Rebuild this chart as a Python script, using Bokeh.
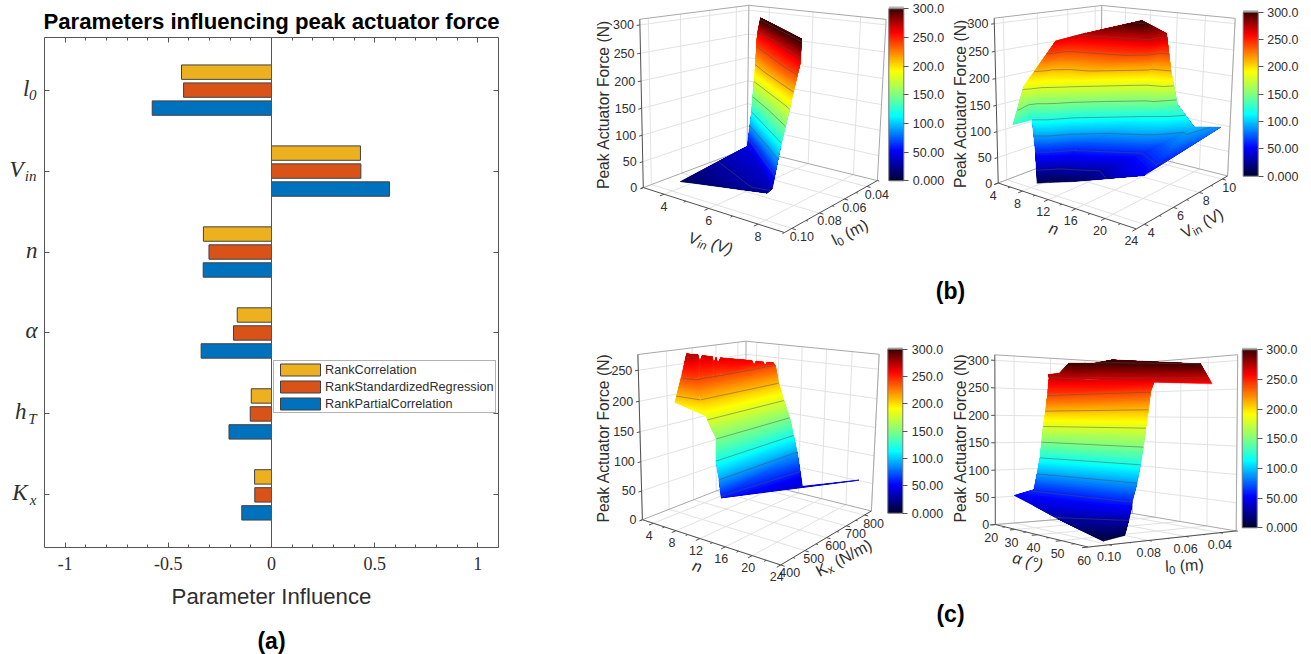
import numpy as np
from bokeh.plotting import figure
from bokeh.models import (Range1d, FixedTicker, LinearAxis, Span, Label, ColumnDataSource,
    Legend, LinearColorMapper, ColorBar)
from bokeh.core.properties import value
from bokeh.transform import transform
from bokeh.embed import file_html
from bokeh.resources import INLINE

# ---------- bar chart data ----------
params_main = ["l", "V", "n", "α", "h", "K"]
params_sub = ["0", "in", "", "", "T", "x"]
rank_corr = [-0.436, 0.431, -0.330, -0.166, -0.098, -0.082]
rank_reg = [-0.426, 0.433, -0.303, -0.184, -0.103, -0.081]
rank_partial = [-0.578, 0.572, -0.331, -0.341, -0.206, -0.144]
positions = [1, 2, 3, 4, 5, 6]

# ---------- surface data ----------
B1_X = [[[4.0,7.29],[4.48,7.57],[4.8,7.88],[4.87,8.18],[4.13,8.56],[5.2,8.93]]]
B1_Y = [[[0.0946,0.0868],[0.0543,0.0881],[0.0569,0.0885],[0.0559,0.0873],[0.0418,0.0887],[0.0576,0.0956]]]
B1_Z = [[[12,22],[45,35],[113,113],[192,192],[262,262],[305,305]]]

B2_X = [[[8.48,9.54,11.9,20.7,21.7],[7.34,8.69,10.4,17.5,20.5],[6.71,8.05,9.86,16,18.5],[6.59,7.46,9.43,15.9,18.6],[6.34,7.25,7.61,16.7,17.1],[6.34,7.25,9.25,15.8,16.4]],[[8.01,6.71],[6.34,6.59]]]
B2_Y = [[[4.19,4.6,5.13,5.67,11.2],[4.54,4.94,5.74,7.4,9.57],[4.6,5,5.96,8.12,9.29],[4.27,5.04,5.82,8.29,8.67],[4.27,5.87,6.87,8.04,9.09],[4.27,5.87,6.99,7.83,9.42]],[[3.04,4.6],[4.27,4.27]]]
B2_Z = [[[8,8,12,50,85],[60,60,60,62,98],[120,120,120,122,140],[175,190,192,192,205],[185,262,262,262,270],[185,262,275,305,275]],[[130,120],[185,175]]]

C1_X = [[[12.8,15.6],[13,13.4],[12.7,12.8],[11.7,11.9],[10.8,10.9],[9.75,9.91],[8.88,8.92]],[[8.88,8.93,8.94,8.81,8.88,8.86,8.91,8.89,8.97,8.99,8.97,8.84,8.79,8.78,8.82,8.92],[5.82,6.04,5.05,6.29,7.07,6.3,7.87,7.4,7.92,11,10.3,11.8,12.2,11.1,12.7,12.8]],[[12.8,21.2],[15.6,21.2]],[[10.2,7.59],[9.69,5.69],[8.88,6.57],[5.82,5.82]]]
C1_Y = [[[462,747],[449,784],[445,782],[470,787],[458,786],[457,788],[459,798]],[[459,466,473,485,521,528,536,543,552,686,694,708,742,750,760,798],[494,532,562,543,564,589,561,579,578,631,659,628,649,687,652,676]],[[462,866],[747,866]],[[465,468],[456,452],[459,457],[494,494]]]
C1_Z = [[[58,38],[90,90],[120,120],[150,150],[180,180],[210,210],[240,240]],[[240]*16,[275,272,258,270,268,255,268,257,266,262,252,262,260,250,260,258]],[[58,45],[38,45]],[[185,200],[210,200],[240,240],[275,275]]]

C2_X = [[[57.5,55.0],[43.5,55.7],[32.0,56.2],[22.5,56.0],[19.9,55.1],[19.4,54.8],[20.0,56.9],[22.1,47.8],[4.17,69.5],[15.2,58.0],[26.3,45.5]],
        [[26.3,26.8,27.1,35.0,37.9,45.5,58.2],[23.9,31.0,24.3,28.8,32.4,36.9,45.6]],
        [[18.4,32.0],[18.4,22.5]]]
C2_Y = [[[0.0995,0.0851],[0.104,0.0841],[0.103,0.0833],[0.0922,0.0828],[0.0875,0.0789],[0.0853,0.0767],[0.0851,0.0784],[0.0866,0.0632],[0.0646,0.0949],[0.0763,0.0763],[0.0883,0.0552]],
        [[0.0883,0.0832,0.0784,0.0744,0.0681,0.0552,0.0421],[0.0859,0.0882,0.0749,0.0662,0.0604,0.0491,0.0271]],
        [[0.0982,0.103],[0.0982,0.0922]]]
C2_Z = [[[3,5],[28,30],[42,52],[62,60],[90,90],[120,120],[150,150],[180,180],[210,210],[240,240],[268,262]],
        [[268,268,268,266,265,262,258],[277,277,300,300,306,304,300]],
        [[50,42],[50,62]]]

# ---------- colour scale ----------
STOPS = [(0,(0,0,50)),(52,(0,0,255)),(113,(0,255,255)),(150,(128,255,128)),(192,(255,255,0)),(259,(255,0,0)),(300,(60,0,0))]
zs = np.linspace(0,300,256)
palette = ["#%02x%02x%02x" % tuple(int(round(np.interp(z,[s[0] for s in STOPS],[s[1][i] for s in STOPS]))) for i in range(3)) for z in zs]
mapper = LinearColorMapper(palette=palette, low=0, high=300)
cb_labels = {0:"0.000",50:"50.00",100:"100.0",150:"150.0",200:"200.0",250:"250.0",300:"300.0"}

SANS = "Liberation Sans"; SERIF = "Liberation Serif"
INK = "#2e2e2e"

# ---------- panel (a) ----------
XT = [-1,-0.5,0,0.5,1]
XM = [round(-1+0.1*i,1) for i in range(21)]
xlab = {-1:"-1",-0.5:"-0.5",0:"0",0.5:"0.5",1:"1"}
YLOW,YHIGH = 6.65,0.35
FT,FB,FL = 37,547,44
left = figure(width=580, height=654, x_range=Range1d(-1.1,1.1), y_range=Range1d(YLOW,YHIGH),
    toolbar_location=None, output_backend="svg", min_border_left=FL, min_border_right=82,
    min_border_top=FT, min_border_bottom=654-FB, outline_line_color=None,
    title="Parameters influencing peak actuator force")
left.grid.visible = False
left.title.text_font = SANS; left.title.text_font_size = "22.2px"; left.title.text_font_style="bold"
left.title.align = "center"; left.title.text_color="black"; left.title.standoff = 8
ax = left.xaxis[0]
ax.ticker = FixedTicker(ticks=XT, minor_ticks=XM)
ax.major_label_overrides = xlab
ax.axis_label = "Parameter Influence"
ax.axis_label_text_font = SANS; ax.axis_label_text_font_size="22.2px"; ax.axis_label_text_font_style="normal"
ax.axis_label_text_color = INK; ax.axis_label_standoff = 11
ax.major_label_text_font = SERIF; ax.major_label_text_font_size = "18px"; ax.major_label_text_color = INK
ax.major_label_standoff = 9
ay = left.yaxis[0]
ay.ticker = FixedTicker(ticks=positions)
ay.major_label_overrides = {i:"" for i in positions}
def style_axis(a):
    a.axis_line_color="#555555"; a.major_tick_line_color="#555555"; a.minor_tick_line_color="#555555"
    a.major_tick_in=5; a.major_tick_out=0; a.minor_tick_in=3; a.minor_tick_out=0
for a in (ax,ay): style_axis(a)
top_ax = LinearAxis(ticker=FixedTicker(ticks=XT, minor_ticks=XM), major_label_overrides={t:"" for t in XT})
right_ax = LinearAxis(ticker=FixedTicker(ticks=positions), major_label_overrides={i:"" for i in positions})
style_axis(top_ax); style_axis(right_ax)
ay.minor_tick_line_color=None; right_ax.minor_tick_line_color=None
left.add_layout(top_ax,"above"); left.add_layout(right_ax,"right")
BAR_H = 0.178; OFF = 0.222
EDGE = "#404040"
r1 = left.hbar(y=[p-OFF for p in positions], left=0, right=rank_corr, height=BAR_H, fill_color="#EDB120", line_color=EDGE)
r2 = left.hbar(y=positions, left=0, right=rank_reg, height=BAR_H, fill_color="#D95319", line_color=EDGE)
r3 = left.hbar(y=[p+OFF for p in positions], left=0, right=rank_partial, height=BAR_H, fill_color="#0072BD", line_color=EDGE)
left.add_layout(Span(location=0, dimension="height", line_color="#555555", line_width=1))
leg = Legend(items=[("RankCorrelation",[r1]),("RankStandardizedRegression",[r2]),("RankPartialCorrelation",[r3])],
    location=(229,134), margin=0, padding=1, spacing=2, glyph_width=50, glyph_height=15, label_height=15,
    label_standoff=0, label_text_font=SANS, label_text_font_size="12.7px", label_text_color=INK,
    border_line_color="#666666", border_line_width=1, background_fill_alpha=1)
left.add_layout(leg,"center")
left.styles = {"position":"absolute","left":"0px","top":"0px"}

# ---------- overlay canvas: 3-D panels and labels outside the bar chart's frame ----------
right = figure(width=1311, height=654, x_range=Range1d(0,1311), y_range=Range1d(654,0),
    toolbar_location=None, output_backend="svg", min_border=0, outline_line_color=None,
    x_axis_type=None, y_axis_type=None, background_fill_color=None, border_fill_color=None)
right.styles = {"position":"absolute","left":"0px","top":"0px"}

pos_px = [FT+(p-YHIGH)/(YLOW-YHIGH)*(FB-FT) for p in positions]
main_off = [-15,-21,-7,-7,-18,-17]
sub_off = [-8,-8,0,0,-8,-8]
right.text(x=[FL+o for o in main_off],y=[y-2 for y in pos_px],text=params_main,text_align="right",text_baseline="middle",
    text_font=value(SERIF),text_font_style="italic",text_font_size="23px",text_color=INK)
right.text(x=[FL+o for o in sub_off],y=[y+5 for y in pos_px],text=params_sub,text_align="right",text_baseline="middle",
    text_font=value(SERIF),text_font_style="italic",text_font_size="15px",text_color=INK)
UNIT = [(0,0,0),(1,0,0),(1,1,0),(0,1,0),(0,0,1),(1,1,1),(0,1,1)]
def camera(c2):
    A=[]
    for (x,y,z),(u,v) in zip(UNIT,c2):
        A.append([x,y,z,1,0,0,0,0,-u*x,-u*y,-u*z,-u])
        A.append([0,0,0,0,x,y,z,1,-v*x,-v*y,-v*z,-v])
    return np.linalg.svd(np.array(A,float))[2][-1].reshape(3,4)
def proj(P,u,v,w):
    h=P@np.array([u,v,w,1.0]); return h[0]/h[2],h[1]/h[2]

def clip_above(tri,lo):
    poly=list(tri); out=[]
    for i in range(len(poly)):
        a=poly[i];b=poly[(i+1)%len(poly)]
        da=a[2]-lo;db=b[2]-lo
        if da>=0: out.append(a)
        if (da>=0)!=(db>=0):
            t=da/(da-db); out.append(tuple(a[k]+t*(b[k]-a[k]) for k in range(3)))
    return out

def surface(P,rng,X,Y,Z):
    (x0,x1),(y0,y1),(z0,z1)=rng
    BAND=2.5
    polys=[];lx=[];ly=[]
    pr=lambda t:proj(P,(t[0]-x0)/(x1-x0),(t[1]-y0)/(y1-y0),(t[2]-z0)/(z1-z0))
    for mx,my,mz in zip(X,Y,Z):
        for i in range(len(mz)-1):
            for j in range(len(mz[0])-1):
                q=[(mx[i+a][j+b],my[i+a][j+b],mz[i+a][j+b]) for a,b in ((0,0),(0,1),(1,1),(1,0))]
                for tri in ((q[0],q[1],q[2]),(q[0],q[2],q[3])):
                    zz=[t[2] for t in tri]
                    first=int(min(zz)//BAND); last=int(max(zz)//BAND)
                    for bnd in range(first,last+1):
                        poly=tri if bnd==first else clip_above(tri,bnd*BAND)
                        if len(poly)<3: continue
                        pts=[pr(t) for t in poly]
                        polys.append(((bnd+0.5)*BAND,1.0 if bnd==first else 0.0,[p[0] for p in pts],[p[1] for p in pts]))
                    for lev in range(30,301,30):
                        L=lev+0.01; seg=[]
                        for k in range(3):
                            a=tri[k];b=tri[(k+1)%3]
                            if (a[2]-L)*(b[2]-L)<0:
                                t=(L-a[2])/(b[2]-a[2]); seg.append(tuple(a[m]+t*(b[m]-a[m]) for m in range(3)))
                        if len(seg)==2:
                            pts=[pr(t) for t in seg]
                            lx.append([p[0] for p in pts]);ly.append([p[1] for p in pts])
    polys.sort(key=lambda r:r[0])
    src=ColumnDataSource(dict(z=[r[0] for r in polys],la=[r[1] for r in polys],xs=[r[2] for r in polys],ys=[r[3] for r in polys]))
    right.patches("xs","ys",source=src,fill_color=transform("z",mapper),line_color=transform("z",mapper),line_alpha="la",line_width=0.5)
    right.multi_line(lx,ly,line_color="#505050",line_width=0.8,line_alpha=0.6)

WIDTH = dict(zip("Vin ()lm0Kx/Nα°",[.667,.222,.556,.278,.333,.333,.222,.833,.556,.667,.5,.278,.722,.58,.4]))
def rotated(pieces,cx,cy,deg,size=16):
    a=np.radians(deg); d=np.array([np.cos(a),-np.sin(a)]); perp=np.array([np.sin(a),np.cos(a)])
    widths=[sum(WIDTH.get(c,.55) for c in p[0])*p[2]*size for p in pieces]
    pos=np.array([cx,cy],float)-d*sum(widths)/2
    for (t,st,s,dy),w in zip(pieces,widths):
        lead=len(t)-len(t.lstrip())
        q=pos+perp*dy+d*lead*.278*s*size
        right.text(x=[q[0]],y=[q[1]],text=[t.lstrip()],angle=a,text_font=value(SANS),text_font_style=st,
            text_font_size=f"{s*size:.1f}px",text_align="left",text_baseline="middle",text_color=INK)
        pos=pos+d*w

def panel(corners,rng,X,Y,Z,xt,xm,yt,ym,zt,xl,yl,xoff,yoff,peak,bar):
    P=camera(corners)
    (x0,x1),(y0,y1),(z0,z1)=rng
    U=lambda x:(x-x0)/(x1-x0); V=lambda y:(y-y0)/(y1-y0); W=lambda z:(z-z0)/(z1-z0)
    gx=[];gy=[]
    def add(a,b):
        pa=proj(P,*a);pb=proj(P,*b);gx.append([pa[0],pb[0]]);gy.append([pa[1],pb[1]])
    for t in xt:
        add((U(t),0,0),(U(t),1,0)); add((U(t),1,0),(U(t),1,1))
    for t in yt:
        add((0,V(t),0),(1,V(t),0)); add((0,V(t),0),(0,V(t),1))
    for t in zt[1:]:
        add((0,0,W(t)),(0,1,W(t))); add((0,1,W(t)),(1,1,W(t)))
    right.multi_line(gx,gy,line_color="#e2e2e2",line_width=1)
    ex=[];ey=[]
    for a,b in (((0,0,1),(0,1,1)),((0,1,1),(1,1,1)),((0,1,1),(0,1,0)),((1,1,1),(1,1,0)),((0,0,0),(0,1,0)),((0,1,0),(1,1,0))):
        pa=proj(P,*a);pb=proj(P,*b);ex.append([pa[0],pb[0]]);ey.append([pa[1],pb[1]])
    right.multi_line(ex,ey,line_color="#a8a8a8",line_width=1)
    surface(P,rng,X,Y,Z)
    ax_=[];ay_=[]
    def addk(a,b):
        pa=proj(P,*a);pb=proj(P,*b);ax_.append([pa[0],pb[0]]);ay_.append([pa[1],pb[1]])
    addk((0,0,0),(1,0,0));addk((1,0,0),(1,1,0));addk((0,0,0),(0,0,1))
    for t in xt: addk((U(t),0,0),(U(t),-0.035,0))
    for t in xm: addk((U(t),0,0),(U(t),-0.018,0))
    for t in yt: addk((1,V(t),0),(1.025,V(t),0))
    for t in ym: addk((1,V(t),0),(1.013,V(t),0))
    for t in zt: addk((0,0,W(t)),(0,-0.025,W(t)))
    right.multi_line(ax_,ay_,line_color="#505050",line_width=1)
    def labels(pts,txt,align):
        right.text(x=[p[0] for p in pts],y=[p[1] for p in pts],text=txt,text_font=value(SANS),text_font_size="12.5px",
            text_align=align,text_baseline="middle",text_color=INK)
    labels([(lambda p:(p[0]+xoff[0],p[1]+xoff[1]))(proj(P,U(t),0,0)) for t in xt],xl,"center")
    labels([(lambda p:(p[0]+yoff[0],p[1]+yoff[1]))(proj(P,1,V(t),0)) for t in yt],yl,"center")
    labels([(lambda p:(p[0]-6,p[1]))(proj(P,0,0,W(t))) for t in zt],[str(t) for t in zt],"right")
    right.text(x=[peak[0]],y=[peak[1]],text=["Peak Actuator Force (N)"],angle=np.pi/2,text_font=value(SANS),
        text_font_size="15.7px",text_align="center",text_baseline="middle",text_color=INK)
    bx,btop,bbot=bar
    cb=ColorBar(color_mapper=mapper,ticker=FixedTicker(ticks=list(cb_labels)),major_label_overrides=cb_labels,
        location=(bx,654-bbot),width=15,height=int(round(bbot-btop)),padding=0,margin=0,
        major_tick_line_color="#555555",major_tick_out=5,major_tick_in=0,label_standoff=4,
        major_label_text_font=SANS,major_label_text_font_size="12.5px",major_label_text_color=INK,
        bar_line_color="#777777",background_fill_alpha=0,border_line_color=None,minor_tick_line_color=None)
    right.add_layout(cb,"center")
    right.quad(left=[bx],right=[bx+15],top=[btop-2],bottom=[btop],fill_color="#b5b5b5",line_color=None)
    return P

RB1=((3,9),(.105,.03),(0,310))
RB2=((4,24),(3.5,10.5),(0,310))
RC1=((2,24),(400,840),(0,275))
RC2=((20,60),(.11,.03),(0,310))
CB1=[(642.7,189.3),(784,230),(876.7,182.3),(746.7,145.7),(639.3,18.3),(885.7,18.3),(748.3,5.7)]
CB2=[(997.3,184.3),(1136,226.7),(1226.7,177.3),(1100.7,141.7),(994,17.3),(1235,17.3),(1100.7,5.7)]
CC1=[(641.7,521.7),(780,562.3),(870.7,512.7),(745,476.7),(637.7,353.3),(879,353.3),(745,341.7)]
CC2=[(994,523),(1089,547),(1235,531),(1132,513),(994,355),(1236.7,353.3),(1133,363)]

Z300=[0,50,100,150,200,250,300]
panel(CB1,RB1,B1_X,B1_Y,B1_Z,[4,6,8],[3,5,7,9],[.10,.08,.06,.04],[.09,.07,.05,.03],Z300,["4","6","8"],["0.10","0.08","0.06","0.04"],(0,12),(10,8),(603,104),(888.3,8,180.3))
panel(CB2,RB2,B2_X,B2_Y,B2_Z,[4,8,12,16,20,24],[6,10,14,18,22],[4,6,8,10],[5,7,9],Z300,["4","8","12","16","20","24"],["4","6","8","10"],(-5,12),(7,8),(960,103),(1242.7,11.7,175.7))
panel(CC1,RC1,C1_X,C1_Y,C1_Z,[4,8,12,16,20,24],[2,6,10,14,18,22],[400,500,600,700,800],[450,550,650,750],[0,50,100,150,200,250],["4","8","12","16","20","24"],["400","500","600","700","800"],(-4,12),(9,8),(603,437.5),(887.3,349,512.7))
panel(CC2,RC2,C2_X,C2_Y,C2_Z,[20,30,40,50,60],[25,35,45,55],[.10,.08,.06,.04],[.09,.07,.05,.03],Z300,["20","30","40","50","60"],["0.10","0.08","0.06","0.04"],(-4,13),(0,12),(960,437.5),(1241.7,349.3,527.3))

IT="italic";NO="normal"
rotated([("V",IT,1,0),("in",IT,.72,4),(" (V)",IT,1,0)],710,242.7,-16)
rotated([("l",NO,1,0),("0",NO,.72,4),(" (m)",NO,1,0)],849.3,231.7,27)
rotated([("n",IT,1,0)],1053.3,228.3,-16)
rotated([("V",NO,1,0),("in",NO,.72,4),(" (V)",NO,1,0)],1201.7,222.7,28)
rotated([("n",IT,1,0)],696.7,565.7,-16)
rotated([("K",NO,1,0),("x",NO,.72,4),(" (N/m)",NO,1,0)],843.3,557.3,28)
rotated([("α",IT,1,0),(" (°)",IT,1,0)],1027.3,560.7,-15)
rotated([("l",NO,1,0),("0",NO,.72,4),(" (m)",NO,1,0)],1184,565,3)
for t,x,y in (("(a)",271,640),("(b)",950,290),("(c)",950,613)):
    right.add_layout(Label(x=x,y=y,text=t,text_font=SANS,text_font_style="bold",text_font_size="23px",
        text_align="center",text_baseline="middle",text_color="black"))

open("out.html","w").write(file_html([left,right],INLINE))
